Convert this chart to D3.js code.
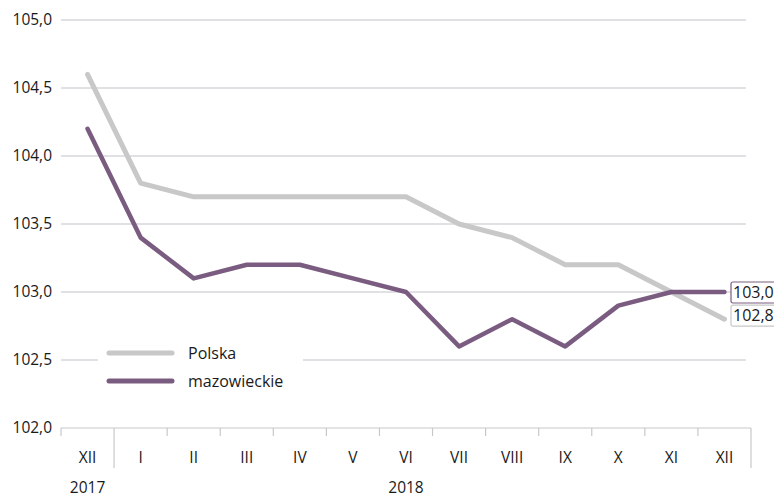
<!DOCTYPE html>
<html>
<head>
<meta charset="utf-8">
<script src="https://cdn.jsdelivr.net/npm/d3@7"></script>
<style>
  body { margin: 0; background: #fff; }
  text { font-family: "Open Sans", sans-serif; fill: #1a1a1a; }
</style>
</head>
<body>
<div id="chart"></div>
<script>
const months = ["XII", "I", "II", "III", "IV", "V", "VI", "VII", "VIII", "IX", "X", "XI", "XII"];
const years = [{ label: "2017", at: 0 }, { label: "2018", at: 6 }];
const polska = [104.6, 103.8, 103.7, 103.7, 103.7, 103.7, 103.7, 103.5, 103.4, 103.2, 103.2, 103.0, 102.8];
const mazowieckie = [104.2, 103.4, 103.1, 103.2, 103.2, 103.1, 103.0, 102.6, 102.8, 102.6, 102.9, 103.0, 103.0];
const yTicks = [102.0, 102.5, 103.0, 103.5, 104.0, 104.5, 105.0];

const W = 774, H = 494;
const margin = { top: 20, right: 23, bottom: 66, left: 61 };

const svg = d3.select("#chart").append("svg")
    .attr("width", W)
    .attr("height", H);

const idx = d3.range(months.length);
const x = d3.scaleBand()
    .domain(idx)
    .range([margin.left, W - margin.right]);

const y = d3.scaleLinear()
    .domain([102, 105])
    .range([H - margin.bottom, margin.top]);

const fmt = v => d3.format(".1f")(v).replace(".", ",");
const cx = i => x(i) + x.bandwidth() / 2;

// title sits above the visible area, only descenders show
svg.append("text")
    .attr("x", 75).attr("y", -6)
    .style("font-size", "16px")
    .text("Wskaźniki dynamiki wynagrodzeń (okres poprzedni = 100) w regionie");

// grid
svg.append("g")
    .selectAll("line")
    .data(yTicks.filter(d => d > 102))
    .join("line")
    .attr("x1", margin.left).attr("x2", 746)
    .attr("y1", d => y(d)).attr("y2", d => y(d))
    .attr("stroke", "#c3c3cb")
    .attr("stroke-width", 1.2);

svg.append("g")
    .selectAll("text")
    .data(yTicks)
    .join("text")
    .attr("x", 52)
    .attr("y", d => y(d) + 5)
    .attr("text-anchor", "end")
    .style("font-size", "15.5px")
    .text(fmt);

// x axis
const base = y(102);
svg.append("line")
    .attr("x1", margin.left).attr("x2", W - margin.right)
    .attr("y1", base).attr("y2", base)
    .attr("stroke", "#c8c8c8").attr("stroke-width", 1.2);

const bounds = d3.range(months.length + 1).map(i => i < months.length ? x(i) : x(months.length - 1) + x.bandwidth());
svg.append("g")
    .selectAll("line")
    .data(bounds)
    .join("line")
    .attr("x1", d => d).attr("x2", d => d)
    .attr("y1", base)
    .attr("y2", (d, i) => (i === 1 || i === months.length) ? base + 40 : base + 8)
    .attr("stroke", "#c8c8c8").attr("stroke-width", 1.2);

svg.append("g")
    .selectAll("text")
    .data(months)
    .join("text")
    .attr("x", (d, i) => cx(i))
    .attr("y", base + 35)
    .attr("text-anchor", "middle")
    .style("font-size", "15.5px")
    .text(d => d);

svg.append("g")
    .selectAll("text")
    .data(years)
    .join("text")
    .attr("x", d => cx(d.at))
    .attr("y", base + 65)
    .attr("text-anchor", "middle")
    .style("font-size", "15.5px")
    .text(d => d.label);

// lines
const line = d3.line().x((d, i) => cx(i)).y(d => y(d));
svg.append("path").datum(polska)
    .attr("d", line)
    .attr("fill", "none").attr("stroke", "#c8c8c8")
    .attr("stroke-width", 5).attr("stroke-linejoin", "round").attr("stroke-linecap", "round");
svg.append("path").datum(mazowieckie)
    .attr("d", line)
    .attr("fill", "none").attr("stroke", "#7a5c80")
    .attr("stroke-width", 4.5).attr("stroke-linejoin", "round").attr("stroke-linecap", "round");

// end labels
const last = months.length - 1;
const ends = [
  { v: mazowieckie[last], c: "#7a5c80", yy: y(mazowieckie[last]) - 10 },
  { v: polska[last], c: "#c8c8c8", yy: y(polska[last]) - 14 }
];
const lab = svg.append("g").selectAll("g").data(ends).join("g")
    .attr("transform", d => `translate(731,${d.yy})`);
lab.append("rect")
    .attr("width", 46).attr("height", 21).attr("rx", 2)
    .attr("fill", "#fff").attr("stroke", d => d.c).attr("stroke-width", 1.2);
lab.append("text")
    .attr("x", 2).attr("y", 16)
    .style("font-size", "16px")
    .text(d => fmt(d.v));

// legend
const legend = [{ name: "Polska", c: "#c8c8c8" }, { name: "mazowieckie", c: "#7a5c80" }];
svg.append("rect")
    .attr("x", 98).attr("y", 338).attr("width", 205).attr("height", 58)
    .attr("fill", "#fff");
const lg = svg.append("g").selectAll("g").data(legend).join("g")
    .attr("transform", (d, i) => `translate(0,${353 + i * 28})`);
lg.append("line")
    .attr("x1", 109).attr("x2", 172)
    .attr("stroke", d => d.c).attr("stroke-width", 5).attr("stroke-linecap", "round");
lg.append("text")
    .attr("x", 188).attr("y", 6)
    .style("font-size", "16px")
    .text(d => d.name);
</script>
</body>
</html>
